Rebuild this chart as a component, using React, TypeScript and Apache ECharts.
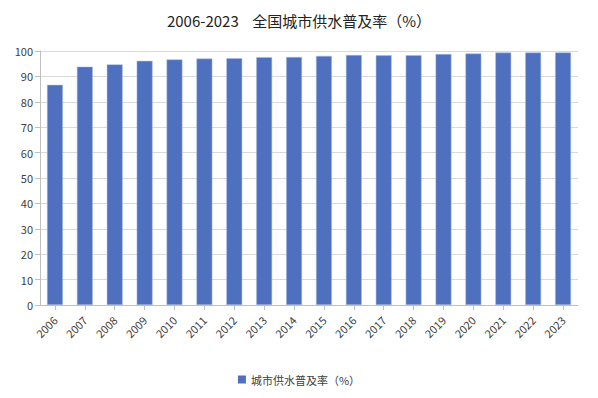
import React, { useEffect, useRef } from "react";
import * as echarts from "echarts";

const titleText = "2006-2023\u00a0\u00a0\u00a0\u00a0全国城市供水普及率（%）";
const seriesName = "城市供水普及率（%）";
const years = ["2006","2007","2008","2009","2010","2011","2012","2013","2014","2015","2016","2017","2018","2019","2020","2021","2022","2023"];
const rates = [86.67, 93.83, 94.73, 96.12, 96.68, 97.04, 97.16, 97.56, 97.64, 98.07, 98.42, 98.30, 98.36, 98.78, 98.99, 99.38, 99.39, 99.43];

const FONT = "'Noto Sans CJK SC', 'Noto Sans', sans-serif";

export default function App() {
  const ref = useRef<HTMLDivElement>(null);
  useEffect(() => {
    if (!ref.current) return;
    const chart = echarts.init(ref.current, null, { renderer: "svg" });
    chart.setOption({
      animation: false,
      backgroundColor: "#ffffff",
      textStyle: { fontFamily: FONT },
      title: {
        text: titleText,
        left: "center",
        top: 8,
        textStyle: { fontSize: 15, fontWeight: "normal", color: "#222", fontFamily: FONT },
      },
      legend: {
        bottom: 8,
        left: "center",
        itemWidth: 8,
        itemHeight: 8,
        itemGap: 4,
        icon: "rect",
        itemStyle: { borderWidth: 0 },
        textStyle: { fontSize: 11, color: "#404040", fontFamily: FONT },
        data: [seriesName],
      },
      grid: { left: 40, right: 20, top: 51, bottom: 93, containLabel: false },
      xAxis: {
        type: "category",
        data: years,
        axisLine: { lineStyle: { color: "#bfbfbf" } },
        axisTick: { show: true, alignWithLabel: true, length: 5, lineStyle: { color: "#bfbfbf" } },
        axisLabel: { rotate: 45, fontSize: 11, color: "#404040", margin: 13, fontFamily: FONT },
      },
      yAxis: {
        type: "value",
        min: 0,
        max: 100,
        interval: 10,
        axisLine: { show: true, lineStyle: { color: "#bfbfbf" } },
        axisTick: { show: true, length: 5, lineStyle: { color: "#bfbfbf" } },
        axisLabel: { fontSize: 11, color: "#404040", margin: 7, fontFamily: FONT },
        splitLine: { lineStyle: { color: "#d9d9d9" } },
      },
      series: [
        {
          name: seriesName,
          type: "bar",
          data: rates,
          barWidth: "53%",
          itemStyle: { color: "#4f70be", borderColor: "#a9bce3", borderWidth: 0.5 },
        },
      ],
    });
    return () => chart.dispose();
  }, []);
  return <div ref={ref} style={{ width: 598, height: 398, position: "absolute", left: 0, top: 0 }} />;
}
